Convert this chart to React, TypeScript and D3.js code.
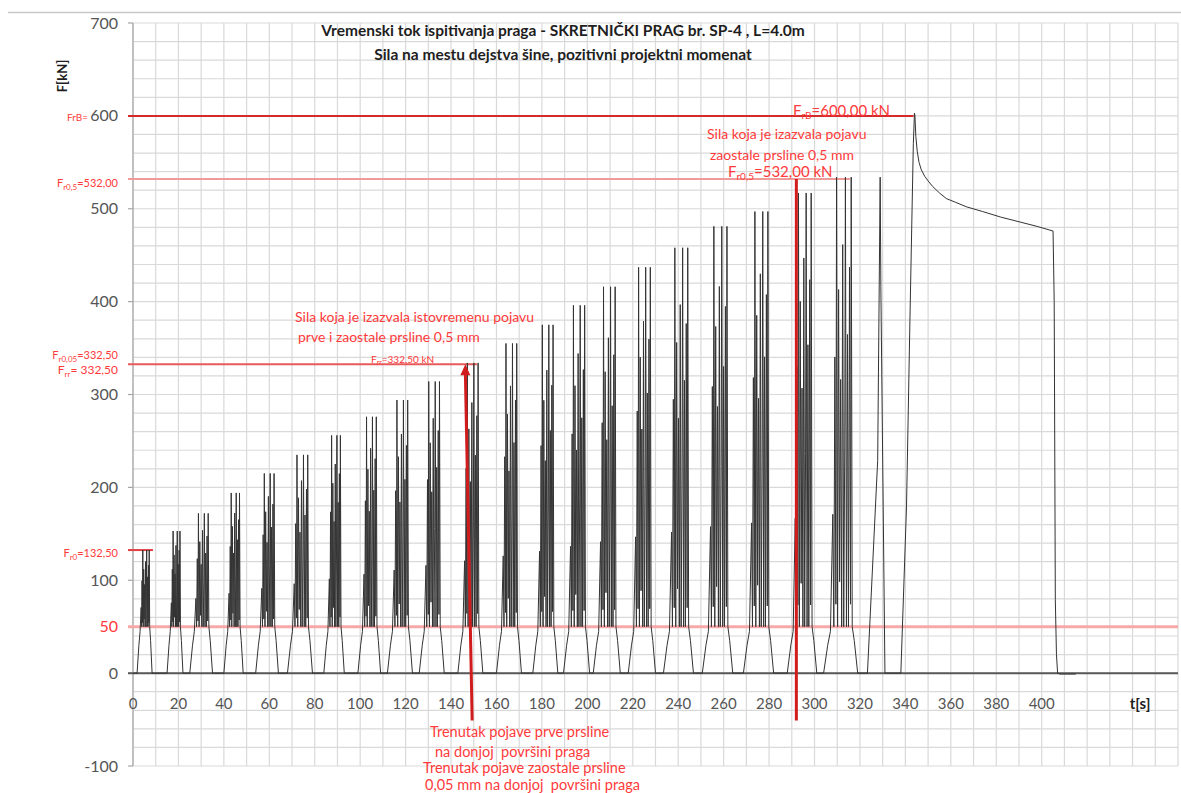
import React from "react";
import * as d3 from "d3";

const W = 1181;
const H = 793;

// ---- axis ticks ----
const yTicks = [700, 600, 500, 400, 300, 200, 100, 0, -100];
const xTicks = [0, 20, 40, 60, 80, 100, 120, 140, 160, 180, 200, 220, 240, 260, 280, 300, 320, 340, 360, 380, 400];

// ---- loading cycles ----
const cycleStart = [1.8, 15, 25, 40, 54, 68, 84, 99, 112, 126, 143, 160, 176, 189.5, 202.6, 218, 233.5, 250.6, 268.7, 288, 304];
const cycleEnd = [8.4, 22, 35, 48.5, 64, 79, 93, 109, 123, 137, 154, 171, 187, 201, 214.5, 230, 246.7, 264, 282, 301, 319];
const cyclePeak = [132.5, 153, 172, 194, 215, 235, 256, 276, 294, 314, 334, 355, 375, 396, 416, 437, 458, 481, 497, 517, 534];

// typical shape of one cycle: fraction of duration, absolute level, share of (peak - 50)
const shapeU = [0, 0.12, 0.2, 0.27, 0.3, 0.33, 0.36, 0.38, 0.41, 0.44, 0.47, 0.5, 0.53, 0.56, 0.59, 0.62, 0.64, 0.67, 0.7, 0.73, 0.76, 0.79, 0.81, 0.84, 0.9, 1];
const shapeAbs = [0, 30, 45, 50, 50, 50, 50, 50, 50, 50, 50, 50, 50, 50, 50, 50, 50, 50, 50, 50, 50, 50, 50, 50, 35, 0];
const shapeRel = [0, 0, 0, 0.25, 0, 0.6, 0.05, 1.0, 0, 0.75, 0.1, 0.55, 0, 0.85, 0, 0.4, 1.0, 0, 0.65, 0, 0.8, 0.05, 1.0, 0, 0, 0];

// single spike cycle
const spikeT = [323.3, 327.8, 328.9, 329.2, 331];
const spikeF = [0, 229, 534, 416, 0];

// final loading to failure
const finalT = [338, 340.5, 342, 343.5, 344, 344.2, 344.6, 345.2, 346, 347, 348.5, 350, 352, 355, 358, 362, 367, 374, 382, 390, 398, 405, 405.5, 406, 406.5, 407, 408, 415];
const finalF = [0, 180, 380, 570, 603, 600, 578, 562, 550, 542, 535, 530, 524, 517, 511, 507, 502, 497, 491, 486, 481, 476, 400, 79, 20, 0, -1, -1];

// ---- reference lines ----
const refValues = [600, 532, 332.5, 132.5, 50];
const refEnds = [343.6, 315.6, 151.4, 8.8, 460];
const refColors = ["#d42a2a", "#f09a9a", "#e85a5a", "#e04040", "#f7a8a8"];
const refWidths = [2, 2, 2, 2, 3];

const font = "Lato, 'Open Sans', sans-serif";
const red = "#ff3a3a";

export default function App() {
  const x = d3.scaleLinear().domain([0, 460]).range([133, 1178]);
  const y = d3.scaleLinear().domain([-100, 700]).range([766, 23]);

  const pts: [number, number][] = [[0, 0]];
  cycleStart.forEach((s, i) => {
    const d = cycleEnd[i] - s;
    const p = cyclePeak[i];
    shapeU.forEach((u, k) => {
      pts.push([s + u * d, shapeAbs[k] + shapeRel[k] * (p - 50)]);
    });
  });
  spikeT.forEach((t, k) => pts.push([t, spikeF[k]]));
  finalT.forEach((t, k) => pts.push([t, finalF[k]]));

  const line = d3
    .line<[number, number]>()
    .x((d) => x(d[0]))
    .y((d) => y(d[1]));

  const vGrid = d3.range(0, 461, 10);
  const hGrid = d3.range(-100, 701, 20);

  const v1Top = [146.3, 332.5];
  const v1Bot = [149.3, -51];
  const v2t = 292;

  return (
    <svg
      width={W}
      height={H}
      style={{ position: "fixed", left: 0, top: 0, background: "#fff" }}
      fontFamily={font}
    >
      <rect x={0} y={0} width={W} height={H} fill="#fff" />
      <line x1={8} x2={W} y1={12.5} y2={12.5} stroke="#c8c8c8" strokeWidth={1.5} />
      {/* grid */}
      {vGrid.map((t) => (
        <line key={"v" + t} x1={x(t)} x2={x(t)} y1={y(700)} y2={y(-100)} stroke="#d9d9d9" strokeWidth={1.2} />
      ))}
      {hGrid.map((v) => (
        <line key={"h" + v} x1={x(0)} x2={x(460)} y1={y(v)} y2={y(v)} stroke="#d9d9d9" strokeWidth={1.2} />
      ))}
      {/* y axis */}
      <line x1={x(0)} x2={x(0)} y1={y(700)} y2={y(-100)} stroke="#a6a6a6" strokeWidth={1.2} />
      {yTicks.map((v) => (
        <g key={"yt" + v}>
          <line x1={x(0) - 5} x2={x(0)} y1={y(v)} y2={y(v)} stroke="#a6a6a6" strokeWidth={1.2} />
          <text x={118} y={y(v) + 5.5} textAnchor="end" fontSize={16} fill="#555555">
            {v}
          </text>
        </g>
      ))}
      {xTicks.map((t) => (
        <text key={"xt" + t} x={x(t)} y={709} textAnchor="middle" fontSize={15} fill="#555555">
          {t}
        </text>
      ))}
      {/* reference lines */}
      {refValues.map((v, i) => (
        <line
          key={"r" + v}
          x1={x(0) - 5}
          x2={x(refEnds[i])}
          y1={y(v)}
          y2={y(v)}
          stroke={refColors[i]}
          strokeWidth={refWidths[i]}
        />
      ))}
      {/* zero line */}
      <line x1={x(0) - 5} x2={x(460)} y1={y(0)} y2={y(0)} stroke="#595959" strokeWidth={2} />
      {/* data */}
      <path d={line(pts) || ""} fill="none" stroke="#333333" strokeWidth={1} strokeLinejoin="round" />
      {/* vertical red markers */}
      <line x1={x(v1Top[0])} y1={y(v1Top[1]) + 8} x2={x(v1Bot[0])} y2={y(v1Bot[1])} stroke="#d01c1c" strokeWidth={3} />
      <path d={`M${x(v1Top[0])},${y(v1Top[1])} l-5,11 l10,0 z`} fill="#d01c1c" />
      <line x1={x(v2t)} y1={y(532)} x2={x(v2t)} y2={y(-51)} stroke="#d01c1c" strokeWidth={3} />

      {/* title */}
      <text x={563} y={36} textAnchor="middle" fontSize={15.5} fontWeight="bold" fill="#1e1e1e">
        Vremenski tok ispitivanja praga - SKRETNIČKI PRAG br. SP-4 , L=4.0m
      </text>
      <text x={563} y={60} textAnchor="middle" fontSize={15.5} fontWeight="bold" fill="#1e1e1e">
        Sila na mestu dejstva šine, pozitivni projektni momenat
      </text>
      <text transform="translate(67,76) rotate(-90)" textAnchor="middle" fontSize={13} fontWeight="bold" fill="#1e1e1e">
        F[kN]
      </text>
      <text x={1140} y={709} textAnchor="middle" fontSize={15} fontWeight="bold" fill="#1e1e1e">
        t[s]
      </text>

      {/* left red labels */}
      <text x={88} y={120.5} textAnchor="end" fontSize={10} fill={red}>FrB=</text>
      <text x={118} y={187} textAnchor="end" fontSize={11} fill={red}>
        F<tspan fontSize={8} dy={3}>r0,5</tspan><tspan dy={-3}>=532,00</tspan>
      </text>
      <text x={118} y={359} textAnchor="end" fontSize={11} fill={red}>
        F<tspan fontSize={8} dy={3}>r0,05</tspan><tspan dy={-3}>=332,50</tspan>
      </text>
      <text x={118} y={374} textAnchor="end" fontSize={12} fill={red} style={{ whiteSpace: "pre" }}>
        F<tspan fontSize={8} dy={3}>rr</tspan><tspan dy={-3}>= 332,50</tspan>
      </text>
      <text x={118} y={557} textAnchor="end" fontSize={11} fill={red}>
        F<tspan fontSize={8} dy={3}>r0</tspan><tspan dy={-3}>=132,50</tspan>
      </text>
      <text x={118} y={y(50) + 5.5} textAnchor="end" fontSize={16} fill={red}>50</text>

      {/* annotations */}
      <text x={295} y={322} fontSize={14} fill={red}>Sila koja je izazvala istovremenu pojavu</text>
      <text x={298} y={342} fontSize={14} fill={red}>prve i zaostale prsline 0,5 mm</text>
      <text x={371} y={363} fontSize={10} fill={red}>
        F<tspan fontSize={7} dy={2}>rr</tspan><tspan dy={-2}>=332,50 kN</tspan>
      </text>

      <text x={793} y={116} fontSize={15} fill={red}>
        F<tspan fontSize={10} dy={3}>rB</tspan><tspan dy={-3}>=600,00 kN</tspan>
      </text>
      <text x={707} y={139} fontSize={14} fill={red}>Sila koja je izazvala pojavu</text>
      <text x={710} y={160} fontSize={14} fill={red}>zaostale prsline 0,5 mm</text>
      <text x={728} y={177} fontSize={15} fill={red}>
        F<tspan fontSize={10} dy={3}>r0,5</tspan><tspan dy={-3}>=532,00 kN</tspan>
      </text>

      <text x={430} y={737} fontSize={14.5} fill={red}>Trenutak pojave prve prsline</text>
      <text x={435} y={757} fontSize={14.5} fill={red} style={{ whiteSpace: "pre" }}>na donjoj  površini praga</text>
      <text x={423} y={773} fontSize={14.5} fill={red}>Trenutak pojave zaostale prsline</text>
      <text x={425} y={790} fontSize={14.5} fill={red} style={{ whiteSpace: "pre" }}>0,05 mm na donjoj  površini praga</text>
    </svg>
  );
}
